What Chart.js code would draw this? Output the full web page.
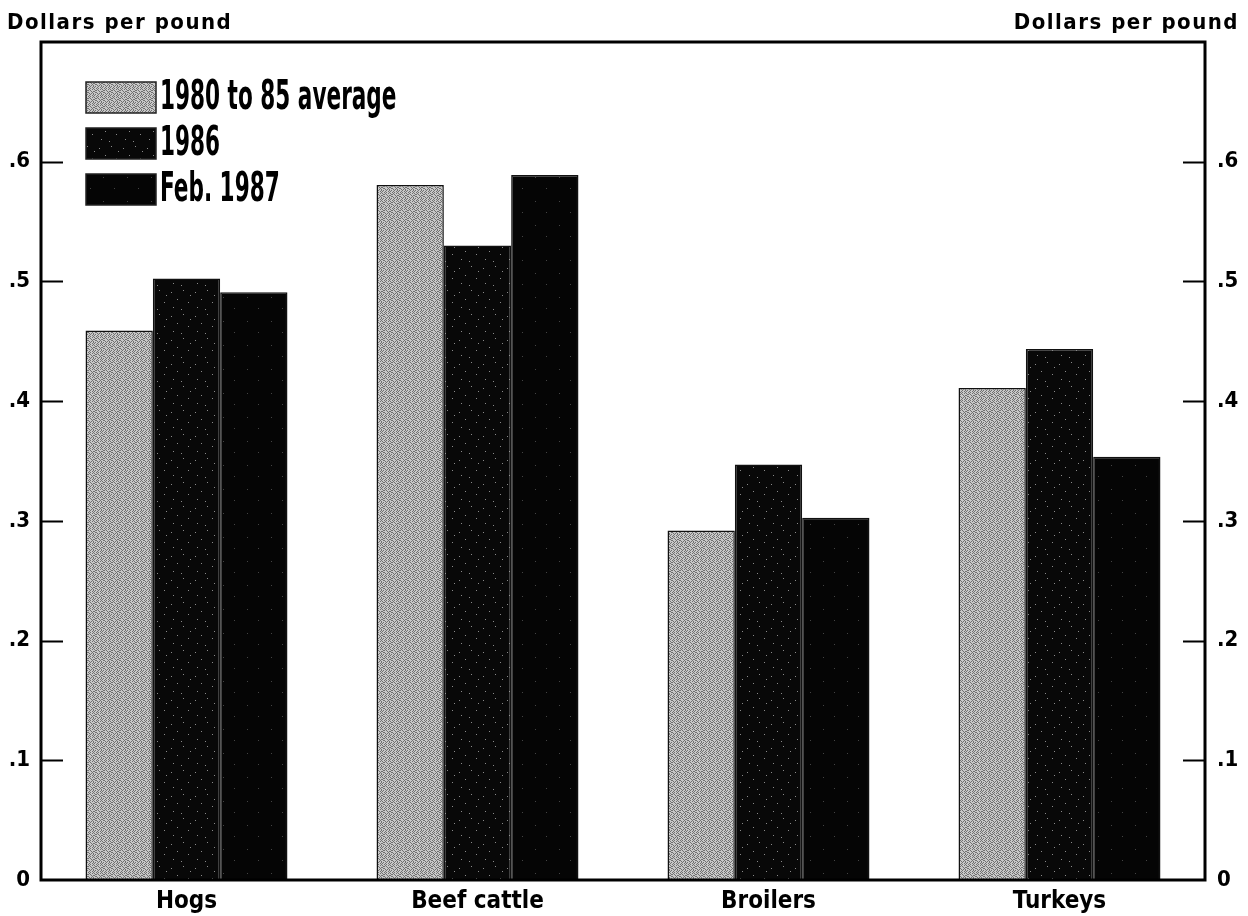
<!DOCTYPE html>
<html><head><meta charset="utf-8">
<script src="https://cdn.jsdelivr.net/npm/chart.js@4.4.0/dist/chart.umd.min.js"></script>
<style>html,body{margin:0;padding:0;background:#fff;}canvas{display:block;}</style>
</head><body>
<canvas id="c" width="1248" height="916"></canvas>
<script>
const categories = ['Hogs', 'Beef cattle', 'Broilers', 'Turkeys'];
const seriesLabels = ['1980 to 85 average', '1986', 'Feb. 1987'];
const avg1980to85 = [0.459, 0.5805, 0.292, 0.411];
const year1986 = [0.5025, 0.530, 0.347, 0.4435];
const feb1987 = [0.491, 0.589, 0.3025, 0.3535];
const yTickValues = [0, 0.1, 0.2, 0.3, 0.4, 0.5, 0.6];
const yTickLabels = ['0', '.1', '.2', '.3', '.4', '.5', '.6'];
const axisTitle = 'Dollars per pound';

const FONT = "'DejaVu Sans Condensed', 'Liberation Sans Narrow', sans-serif";

function makePattern(kind) {
  const c = document.createElement('canvas');
  const s = kind === 'gray' ? 8 : 24;
  c.width = s; c.height = s;
  const g = c.getContext('2d');
  if (kind === 'gray') {
    g.fillStyle = '#c8c8c8'; g.fillRect(0, 0, s, s);
    const dark = [
      '10100100','01001010','10100001','00010110',
      '10001001','01010100','00100101','01001010'];
    g.fillStyle = '#707070';
    for (let y = 0; y < s; y++) for (let x = 0; x < s; x++)
      if (dark[y][x] === '1') g.fillRect(x, y, 1, 1);
  } else if (kind === 'speckle') {
    g.fillStyle = '#080808'; g.fillRect(0, 0, s, s);
    g.fillStyle = '#8a8a8a';
    [[3,4],[15,2],[9,11],[20,14],[5,19],[13,21],[22,7]].forEach(p => g.fillRect(p[0], p[1], 1, 1));
  } else {
    g.fillStyle = '#050505'; g.fillRect(0, 0, s, s);
    g.fillStyle = '#444';
    [[7,9],[18,20]].forEach(p => g.fillRect(p[0], p[1], 1, 1));
  }
  return g.createPattern(c, 'repeat');
}
const fills = [makePattern('gray'), makePattern('speckle'), makePattern('black')];

function tickLabel(v) {
  for (let i = 0; i < yTickValues.length; i++)
    if (Math.abs(yTickValues[i] - v) < 1e-6) return yTickLabels[i];
  return null;
}

const framePlugin = {
  id: 'frame',
  afterDraw(chart) {
    const ctx = chart.ctx;
    const a = chart.chartArea;
    const yl = chart.scales.y, yr = chart.scales.y2;
    ctx.save();
    ctx.strokeStyle = '#000';
    ctx.lineWidth = 2;
    yTickValues.forEach(v => {
      if (v === 0) return;
      const py = Math.round(yl.getPixelForValue(v)) + 0.5;
      ctx.beginPath(); ctx.moveTo(a.left, py); ctx.lineTo(a.left + 22, py); ctx.stroke();
      const py2 = Math.round(yr.getPixelForValue(v)) + 0.5;
      ctx.beginPath(); ctx.moveTo(a.right, py2); ctx.lineTo(a.right - 22, py2); ctx.stroke();
    });
    ctx.lineWidth = 3;
    ctx.strokeRect(a.left, a.top, a.right - a.left, a.bottom - a.top);
    // axis titles
    ctx.fillStyle = '#000';
    ctx.font = 'bold 22px ' + FONT;
    ctx.letterSpacing = '1.5px';
    ctx.textBaseline = 'alphabetic';
    ctx.textAlign = 'left';
    ctx.fillText(axisTitle, 7, 29);
    const w = ctx.measureText(axisTitle).width;
    ctx.fillText(axisTitle, 1239 - w, 29);
    ctx.letterSpacing = '0px';
    // legend
    const lx = a.left + 45, ly = a.top + 40, bw = 70, bh = 31, gap = 46;
    chart.data.datasets.forEach((ds, i) => {
      const y = ly + i * gap;
      ctx.fillStyle = ds.backgroundColor;
      ctx.fillRect(lx, y, bw, bh);
      ctx.lineWidth = 1.5;
      ctx.strokeStyle = '#222';
      ctx.strokeRect(lx, y, bw, bh);
      ctx.save();
      ctx.fillStyle = '#000';
      ctx.font = 'bold 40px ' + FONT;
      ctx.textBaseline = 'middle';
      ctx.translate(lx + bw + 4, y + bh / 2 + 1);
      ctx.scale(0.6, 1);
      ctx.fillText(ds.label, 0, 0);
      ctx.restore();
    });
    ctx.restore();
  }
};

const seriesData = [avg1980to85, year1986, feb1987];

new Chart(document.getElementById('c'), {
  type: 'bar',
  data: {
    labels: categories,
    datasets: seriesLabels.map((lab, i) => ({
      label: lab,
      data: seriesData[i],
      backgroundColor: fills[i],
      borderColor: '#111',
      borderWidth: 1.5,
      borderSkipped: 'start',
      categoryPercentage: 0.694,
      barPercentage: 1.0
    }))
  },
  options: {
    responsive: false,
    animation: false,
    devicePixelRatio: 1,
    layout: { padding: { top: 42, left: 0, right: 0, bottom: 0 } },
    plugins: { legend: { display: false }, tooltip: { enabled: false } },
    scales: {
      x: {
        grid: { display: false, drawTicks: false },
        border: { display: false },
        ticks: { color: '#000', font: { family: FONT, size: 24, weight: 'bold' }, padding: 7, maxRotation: 0 },
        afterFit(s) { s.height = 36; }
      },
      y: {
        position: 'left',
        min: 0, max: 0.7,
        grid: { display: false, drawTicks: false },
        border: { display: false },
        afterBuildTicks(s) { s.ticks = yTickValues.map(v => ({ value: v })); },
        ticks: { color: '#000', font: { family: FONT, size: 22, weight: 'bold' }, padding: 11, callback: v => tickLabel(v) },
        afterFit(s) { s.width = 41; }
      },
      y2: {
        position: 'right',
        min: 0, max: 0.7,
        grid: { display: false, drawTicks: false },
        border: { display: false },
        afterBuildTicks(s) { s.ticks = yTickValues.map(v => ({ value: v })); },
        ticks: { color: '#000', font: { family: FONT, size: 22, weight: 'bold' }, padding: 12, callback: v => tickLabel(v) },
        afterFit(s) { s.width = 43; }
      }
    }
  },
  plugins: [framePlugin]
});
</script>
</body></html>
